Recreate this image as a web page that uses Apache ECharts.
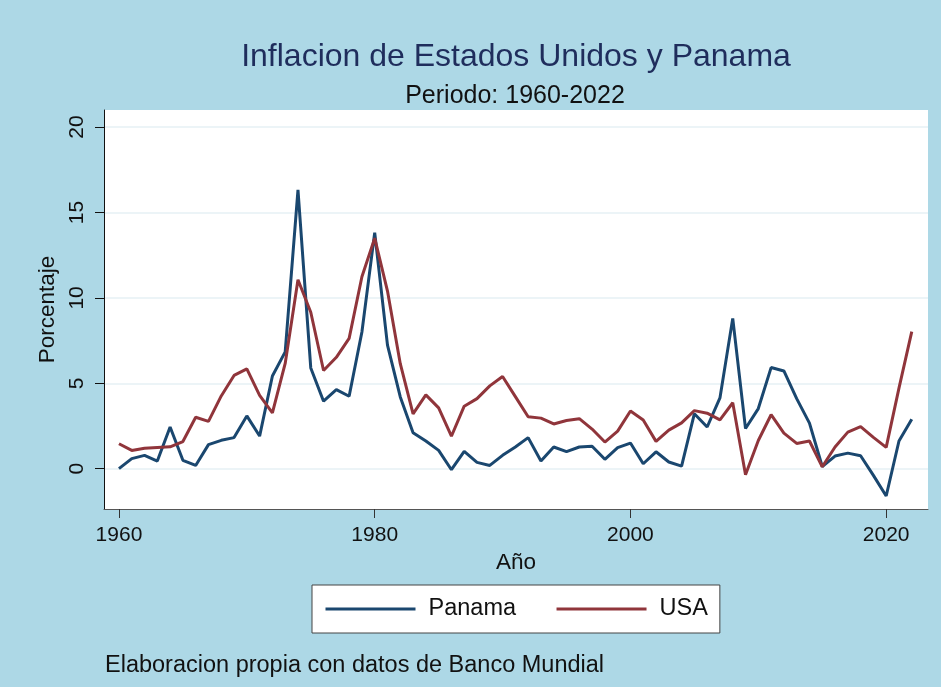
<!DOCTYPE html>
<html>
<head>
<meta charset="utf-8">
<script src="https://cdn.jsdelivr.net/npm/echarts@6/dist/echarts.min.js"></script>
<style>
html,body{margin:0;padding:0;background:#add8e6;}
#c{width:941px;height:687px;}
</style>
</head>
<body>
<div id="c"></div>
<script>
const years = [];
for (let y = 1960; y <= 2022; y++) years.push(y);
const panama = [0.0,0.59,0.78,0.45,2.44,0.49,0.19,1.41,1.66,1.82,
  3.09,1.91,5.43,6.84,16.32,5.9,3.95,4.63,4.24,8.0,
  13.82,7.23,4.2,2.11,1.62,1.07,-0.06,1.01,0.37,0.19,
  0.78,1.27,1.82,0.45,1.27,1.0,1.27,1.31,0.55,1.23,
  1.5,0.29,0.99,0.39,0.15,3.22,2.44,4.14,8.8,2.35,
  3.52,5.92,5.72,4.1,2.67,0.13,0.74,0.91,0.76,-0.39,
  -1.6,1.62,2.89];
const usa = [1.46,1.07,1.2,1.24,1.28,1.59,3.01,2.77,4.26,5.46,
  5.84,4.29,3.27,6.16,11.06,9.16,5.75,6.52,7.63,11.24,
  13.5,10.4,6.15,3.21,4.32,3.56,1.9,3.66,4.1,4.85,
  5.4,4.22,3.04,2.96,2.62,2.82,2.93,2.32,1.56,2.2,
  3.38,2.85,1.6,2.26,2.68,3.4,3.25,2.86,3.86,-0.35,
  1.65,3.16,2.08,1.48,1.62,0.11,1.27,2.14,2.46,1.83,
  1.25,4.72,8.02];
const xTicks = [1960,1980,2000,2020];
const yTicks = [0,5,10,15,20];
const titleText = 'Inflacion de Estados Unidos y Panama';
const subtitleText = 'Periodo: 1960-2022';
const footerText = 'Elaboracion propia con datos de Banco Mundial';

const FONT = '"Liberation Sans", Arial, Helvetica, sans-serif';
const chart = echarts.init(document.getElementById('c'), null, {renderer:'canvas'});
const pair = a => a.map((v,i) => [years[i], v]);

chart.setOption({
  backgroundColor: '#add8e6',
  animation: false,
  textStyle: {fontFamily: FONT},
  grid: {left:104, right:13, top:110, bottom:178, show:true, backgroundColor:'#ffffff', borderWidth:0},
  graphic: [
    {type:'text', x:516, y:57, style:{text:titleText, fill:'#1f2d5c', font:'32px ' + FONT, textAlign:'center', textVerticalAlign:'middle'}},
    {type:'text', x:515, y:96, style:{text:subtitleText, fill:'#111111', font:'25px ' + FONT, textAlign:'center', textVerticalAlign:'middle'}},
    {type:'text', x:105, y:666, style:{text:footerText, fill:'#111111', font:'23.5px ' + FONT, textAlign:'left', textVerticalAlign:'middle'}}
  ],
  legend: {
    left:312, top:585, orient:'horizontal',
    padding:12, itemGap:39, itemWidth:90, itemHeight:23,
    backgroundColor:'#ffffff', borderColor:'#444444', borderWidth:1,
    itemStyle:{opacity:0},
    lineStyle:{width:3},
    textStyle:{fontSize:23.5, color:'#111111', fontFamily:FONT, padding:[0,0,0,8]},
    data:['Panama','USA']
  },
  xAxis: {
    type:'value', min:1958.83, max:2023.27,
    name:'Año', nameLocation:'middle', nameGap:41,
    nameTextStyle:{fontSize:22.5, color:'#111111', fontFamily:FONT},
    axisLine:{show:true, onZero:false, lineStyle:{color:'#555555', width:1}},
    axisTick:{show:true, length:9, lineStyle:{color:'#333333'}, customValues:xTicks},
    axisLabel:{fontSize:21, color:'#111111', margin:16, customValues:xTicks, fontFamily:FONT, formatter: v => String(v)},
    splitLine:{show:false}
  },
  yAxis: {
    type:'value', min:-2.36, max:21.0,
    name:'Porcentaje', nameLocation:'middle', nameGap:42, nameRotate:90,
    nameTextStyle:{fontSize:22.5, color:'#111111', fontFamily:FONT},
    axisLine:{show:true, onZero:false, lineStyle:{color:'#111111', width:1}},
    axisTick:{show:true, length:9, lineStyle:{color:'#111111'}, customValues:yTicks},
    axisLabel:{fontSize:21, color:'#111111', margin:16, rotate:90, customValues:yTicks, fontFamily:FONT, formatter: v => String(v)},
    splitLine:{show:true, lineStyle:{color:'#e6f0f4', width:1.5}}
  },
  series: [
    {name:'Panama', type:'line', data:pair(panama), symbol:'none', lineStyle:{color:'#1a476f', width:3}, itemStyle:{color:'#1a476f'}},
    {name:'USA', type:'line', data:pair(usa), symbol:'none', lineStyle:{color:'#90353b', width:3}, itemStyle:{color:'#90353b'}}
  ]
});
</script>
</body>
</html>
